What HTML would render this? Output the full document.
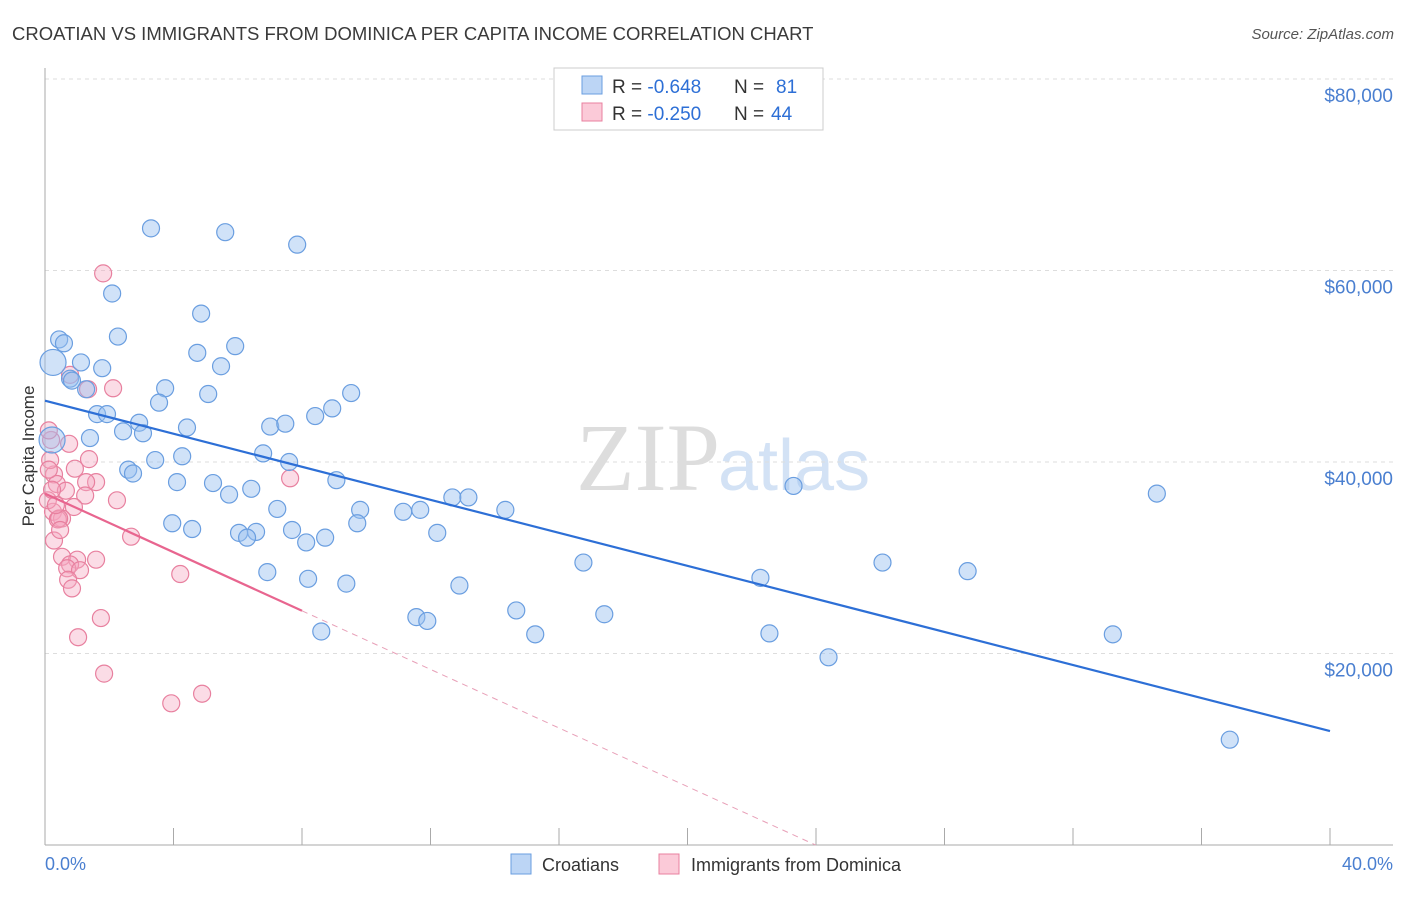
<!DOCTYPE html>
<html><head><meta charset="utf-8"><style>
body{margin:0;background:#fff;font-family:"Liberation Sans",sans-serif;}
</style></head><body>
<svg id="c" width="1406" height="892" xmlns="http://www.w3.org/2000/svg" font-family="Liberation Sans, sans-serif">
<text x="12" y="40" font-size="18.5" fill="#3a3a3a">CROATIAN VS IMMIGRANTS FROM DOMINICA PER CAPITA INCOME CORRELATION CHART</text>
<text x="1394" y="39" font-size="15" font-style="italic" fill="#555" text-anchor="end">Source: ZipAtlas.com</text>
<text x="720" y="490" font-size="96" font-family="Liberation Serif, serif" fill="#ddd" text-anchor="end">ZIP</text>
<text x="718" y="490" font-size="72" fill="#d3e2f5">atlas</text>
<g id="grid"></g><g id="axes"></g><g id="pts"></g><g id="trend"></g>
<text transform="translate(34,456) rotate(-90)" font-size="17" fill="#333" text-anchor="middle">Per Capita Income</text>
<text x="45" y="870" font-size="18" fill="#4a7fd0">0.0%</text>
<text x="1393" y="870" font-size="18" fill="#4a7fd0" text-anchor="end">40.0%</text>
<g>
<rect x="554" y="68" width="269" height="62" fill="#fff" stroke="#ccc"/>
<rect x="582" y="76" width="20" height="18" fill="#bcd5f5" stroke="#6a9ee0"/>
<rect x="582" y="103" width="20" height="18" fill="#fbcad8" stroke="#e8809f"/>
<text x="612" y="93" font-size="19" fill="#333">R = <tspan fill="#2d6fd6">-0.648</tspan><tspan x="734">N = </tspan><tspan fill="#2d6fd6" x="776">81</tspan></text>
<text x="612" y="120" font-size="19" fill="#333">R = <tspan fill="#2d6fd6">-0.250</tspan><tspan x="734">N = </tspan><tspan fill="#2d6fd6" x="771">44</tspan></text>
</g>
<g>
<rect x="511" y="854" width="20" height="20" fill="#bcd5f5" stroke="#6a9ee0"/>
<text x="542" y="871" font-size="18" fill="#333">Croatians</text>
<rect x="659" y="854" width="20" height="20" fill="#fbcad8" stroke="#e8809f"/>
<text x="691" y="871" font-size="18" fill="#333">Immigrants from Dominica</text>
</g>
</svg>
<script>
const yTicks=[20000,40000,60000,80000];
const yTickLabels=["$20,000","$40,000","$60,000","$80,000"];
const xTicks=[0,4,8,12,16,20,24,28,32,36,40];
const blueX=[3.30,5.61,7.85,2.09,4.86,2.27,0.44,0.59,5.92,4.74,0.25,1.12,1.78,5.48,0.78,1.28,3.74,9.53,5.08,3.55,8.94,1.62,1.93,8.41,2.93,7.01,7.48,4.42,2.43,3.05,1.40,6.79,4.27,3.43,7.60,2.59,2.74,4.11,9.07,5.23,6.42,5.73,23.30,34.61,12.68,13.18,7.23,9.81,11.15,11.68,14.33,3.96,9.72,4.58,6.04,12.21,6.57,7.69,6.29,8.13,8.72,16.76,26.07,28.72,6.92,8.19,9.38,12.90,22.27,14.67,17.41,11.56,11.90,8.60,15.26,22.55,33.24,24.39,36.88,0.22,0.84];
const blueY=[64400,64000,62700,57600,55500,53100,52800,52400,52100,51400,50400,50400,49800,50000,48700,47600,47700,47200,47100,46200,45600,45000,45000,44800,44100,43700,44000,43600,43200,43000,42500,40900,40600,40200,40000,39200,38800,37900,38100,37800,37200,36600,37500,36700,36300,36300,35100,35000,34800,35000,35000,33600,33600,33000,32600,32600,32700,32900,32100,31600,32100,29500,29500,28600,28500,27800,27300,27100,27900,24500,24100,23800,23400,22300,22000,22100,22000,19600,11000,42300,48500];
const pinkX=[1.81,0.78,2.12,1.34,0.75,0.19,0.12,1.37,0.93,0.28,7.63,2.24,1.59,0.37,1.28,0.65,1.25,0.90,0.25,0.53,0.40,2.68,0.28,0.53,1.00,1.59,0.78,0.69,1.09,4.21,0.72,0.84,1.74,1.03,1.84,3.93,4.89,0.16,0.09,0.22,0.44,0.12,0.34,0.47];
const pinkY=[59700,49100,47700,47600,41900,42300,43300,40300,39300,38700,38300,36000,37900,37700,37900,37000,36500,35300,34800,34100,34000,32200,31800,30100,29800,29800,29300,28900,28700,28300,27700,26800,23700,21700,17900,14800,15800,40200,36000,37100,34100,39200,35500,32900];
const blueTrend=[46400,11900];   // value at 0% and 40%
const pinkTrend=[36700,-24500];  // value at 0% and 40%
const pinkSolidEnd=8;
const NS="http://www.w3.org/2000/svg";
const X=v=>45+v/40*1285, Y=v=>845-v/20000*191.5;
function mk(tag,at,parent){const e=document.createElementNS(NS,tag);for(const k in at)e.setAttribute(k,at[k]);document.getElementById(parent).appendChild(e);return e;}
let e=mk('line',{x1:45,x2:1393,y1:Y(80000),y2:Y(80000),stroke:'#ddd','stroke-dasharray':'4,4'},'grid');
yTicks.forEach((t,i)=>{
 e=mk('line',{x1:45,x2:1393,y1:Y(t),y2:Y(t),stroke:'#ddd','stroke-dasharray':'4,4'},'grid');
 
 
 e=mk('text',{x:1393,y:Y(t)+23,'font-size':19,fill:'#4a7fd0','text-anchor':'end'},'grid');
 e.textContent=yTickLabels[i];
 
 
});
e=mk('line',{x1:45,x2:45,y1:68,y2:845,stroke:'#aaa'},'axes');


e=mk('line',{x1:45,x2:1393,y1:845,y2:845,stroke:'#aaa'},'axes');


xTicks.forEach(t=>{
 e=mk('line',{x1:X(t),x2:X(t),y1:828,y2:845,stroke:'#aaa'},'axes');
 
 
});
function pts(xs,ys,fill,stroke,name){
 xs.forEach((x,i)=>{
  const big=(name==='croatian-point'&&(i===10||i===79));
  e=mk('circle',{cx:X(x),cy:Y(ys[i]),r:big?13:8.5,fill:fill,stroke:stroke,'stroke-width':1.2},'pts');
  
  
 });
}
pts(pinkX,pinkY,'rgba(246,168,192,0.4)','#e8809f','dominica-point');
pts(blueX,blueY,'rgba(150,190,240,0.45)','#6a9ee0','croatian-point');
const PY=v=>pinkTrend[0]+(pinkTrend[1]-pinkTrend[0])*v/40;
e=mk('line',{x1:X(0),y1:Y(blueTrend[0]),x2:X(40),y2:Y(blueTrend[1]),stroke:'#2d6fd6','stroke-width':2.2},'trend');


e=mk('line',{x1:X(0),y1:Y(PY(0)),x2:X(pinkSolidEnd),y2:Y(PY(pinkSolidEnd)),stroke:'#e8658f','stroke-width':2.2},'trend');


const xEnd=pinkTrend[0]/(pinkTrend[0]-pinkTrend[1])*40;
e=mk('line',{x1:X(pinkSolidEnd),y1:Y(PY(pinkSolidEnd)),x2:X(xEnd),y2:Y(0),stroke:'#e8a0b8','stroke-width':1,'stroke-dasharray':'6,5'},'trend');


</script>
</body></html>
